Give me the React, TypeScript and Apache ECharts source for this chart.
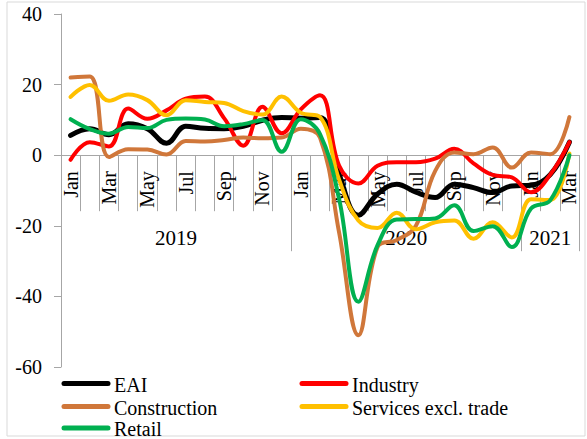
import React, { useEffect, useRef } from "react";
import * as echarts from "echarts";

const categories = [
  "Jan 2019", "Feb 2019", "Mar 2019", "Apr 2019", "May 2019", "Jun 2019",
  "Jul 2019", "Aug 2019", "Sep 2019", "Oct 2019", "Nov 2019", "Dec 2019",
  "Jan 2020", "Feb 2020", "Mar 2020", "Apr 2020", "May 2020", "Jun 2020",
  "Jul 2020", "Aug 2020", "Sep 2020", "Oct 2020", "Nov 2020", "Dec 2020",
  "Jan 2021", "Feb 2021", "Mar 2021",
];

const eai = [
  5.6, 7.5, 5.8, 8.9, 7.5, 3.4, 8.2, 7.6, 7.5, 8.2, 9.9, 10.7,
  10.5, 10.7, -5.5, -17, -11, -8.2, -10.5, -12, -8.2, -9.2, -10.6, -8.7,
  -8.5, -5.5, 3.7,
];
const industry = [
  -1.3, 3.7, 2.5, 13.2, 10.3, 12.7, 16, 16.6, 10.5, 2.7, 13.7, 6.2,
  13, 17, -3, -8, -3, -2, -2, -1, 1.8, -2.3, -5.6, -6.3,
  -10.5, -5.5, 3.7,
];
const construction = [
  22, 22.3, -0.5, 1.7, 1.6, 0.2, 4, 3.9, 4.3, 5, 4.8, 5,
  7.5, 5, -22, -51, -26, -24, -20, -4.5, 0.8, 0.3, 2.2, -3.5,
  0.8, 0.3, 10.8,
];
const services = [
  16.5, 19.9, 15.4, 17.2, 15.6, 11.3, 15.6, 15.1, 14.8, 12.5, 11.5, 16.6,
  12, 10.8, -7, -18.5, -20.6, -16.3, -21, -19, -18.5, -23.7, -19, -23.3,
  -12.5, -12.7, 0.5,
];
const retail = [
  10.2, 7.4, 6.1, 8, 7.7, 10, 10.4, 10.1, 8.2, 8.8, 10, 1,
  10.2, 6, -12.5, -41.5, -25.5, -18.2, -18.1, -17.9, -14.2, -21.5, -20.1, -26,
  -15.1, -12.8, 0,
];

const seriesNames = ["EAI", "Industry", "Construction", "Services excl. trade", "Retail"];
const yearLabels = ["2019", "2020", "2021"];
const yearCenters = [6, 18, 25.5];

const FONT = "Liberation Serif";
const GRAY = "#a6a6a6";

const Y_MIN = -60;
const Y_MAX = 40;
const GRID_TOP = 14;
const GRID_BOTTOM = 72;
const H = 439;

export default function App() {
  const ref = useRef<HTMLDivElement>(null);
  useEffect(() => {
    if (!ref.current) return;
    const chart = echarts.init(ref.current, null, { renderer: "svg" });
    const colors = ["#000000", "#ff0000", "#d0773a", "#ffc000", "#00b050"];
    const datas = [eai, industry, construction, services, retail];
    const widths = [5, 4, 4, 4, 4];
    const legendPos = [
      { x: 62, y: 383.5 },
      { x: 300, y: 383.5 },
      { x: 62, y: 406.5 },
      { x: 300, y: 406.5 },
      { x: 62, y: 428 },
    ];
    const legendGraphics: any[] = [];
    seriesNames.forEach((n, i) => {
      const p = legendPos[i];
      legendGraphics.push({
        type: "line",
        silent: true,
        shape: { x1: p.x + 2, y1: p.y, x2: p.x + 46, y2: p.y },
        style: { stroke: colors[i], lineWidth: 5, lineCap: "round" },
      });
      legendGraphics.push({
        type: "text",
        silent: true,
        x: p.x + 52,
        y: p.y + 1,
        style: {
          text: n,
          font: '20px "Liberation Serif", serif',
          fill: "#000",
          verticalAlign: "middle",
          align: "left",
        },
      });
    });
    const plotH = H - GRID_TOP - GRID_BOTTOM;
    const zeroOffset = -(plotH * (0 - Y_MIN)) / (Y_MAX - Y_MIN);
    chart.setOption({
      animation: false,
      backgroundColor: "#ffffff",
      textStyle: { fontFamily: FONT, color: "#000" },
      graphic: [
        {
          type: "rect",
          silent: true,
          shape: { x: 7, y: 2, width: 578, height: 434 },
          style: { fill: "none", stroke: "#d9d9d9", lineWidth: 1 },
        },
        ...legendGraphics,
      ],
      grid: {
        left: 61,
        right: 8,
        top: GRID_TOP,
        bottom: GRID_BOTTOM,
        containLabel: false,
        outerBoundsMode: "none",
      },
      xAxis: [
        {
          type: "category",
          data: categories,
          boundaryGap: true,
          position: "bottom",
          offset: zeroOffset,
          axisLine: { onZero: false, lineStyle: { color: GRAY, width: 1 } },
          axisTick: { show: true, interval: 0, length: 56, lineStyle: { color: GRAY } },
          axisLabel: {
            interval: 1,
            rotate: 90,
            margin: 16,
            fontFamily: FONT,
            fontSize: 20,
            color: "#000",
            formatter: (v: string) => v.split(" ")[0],
          },
          splitLine: { show: false },
        },
        {
          type: "value",
          min: 0,
          max: 27,
          interval: 12,
          position: "bottom",
          offset: zeroOffset,
          axisLine: { show: false, onZero: false },
          axisTick: { show: true, length: 96, lineStyle: { color: GRAY } },
          axisLabel: { show: false },
          splitLine: { show: false },
        },
        {
          type: "value",
          min: 0,
          max: 27,
          interval: 1.5,
          position: "bottom",
          offset: zeroOffset,
          axisLine: { show: false, onZero: false },
          axisTick: { show: false },
          axisLabel: {
            show: true,
            margin: 72,
            fontFamily: FONT,
            fontSize: 21,
            color: "#000",
            formatter: (v: number) => {
              const k = yearCenters.findIndex((c) => Math.abs(c - v) < 1e-6);
              return k >= 0 ? yearLabels[k] : "";
            },
          },
          splitLine: { show: false },
        },
      ],
      yAxis: {
        type: "value",
        min: Y_MIN,
        max: Y_MAX,
        interval: 20,
        axisLine: { show: true, lineStyle: { color: GRAY, width: 1 } },
        axisTick: { show: true, length: 7, lineStyle: { color: GRAY } },
        axisLabel: { margin: 19, fontFamily: FONT, fontSize: 20, color: "#000" },
        splitLine: { show: false },
      },
      series: seriesNames.map((n, i) => ({
        name: n,
        type: "line",
        xAxisIndex: 0,
        data: datas[i],
        smooth: 0.4,
        showSymbol: false,
        symbol: "none",
        color: colors[i],
        lineStyle: { color: colors[i], width: widths[i], cap: "round", join: "round" },
        z: 2 + i,
      })),
    });
    return () => chart.dispose();
  }, []);
  return (
    <div
      ref={ref}
      style={{ position: "fixed", left: 0, top: 0, width: 587, height: 439 }}
    />
  );
}
